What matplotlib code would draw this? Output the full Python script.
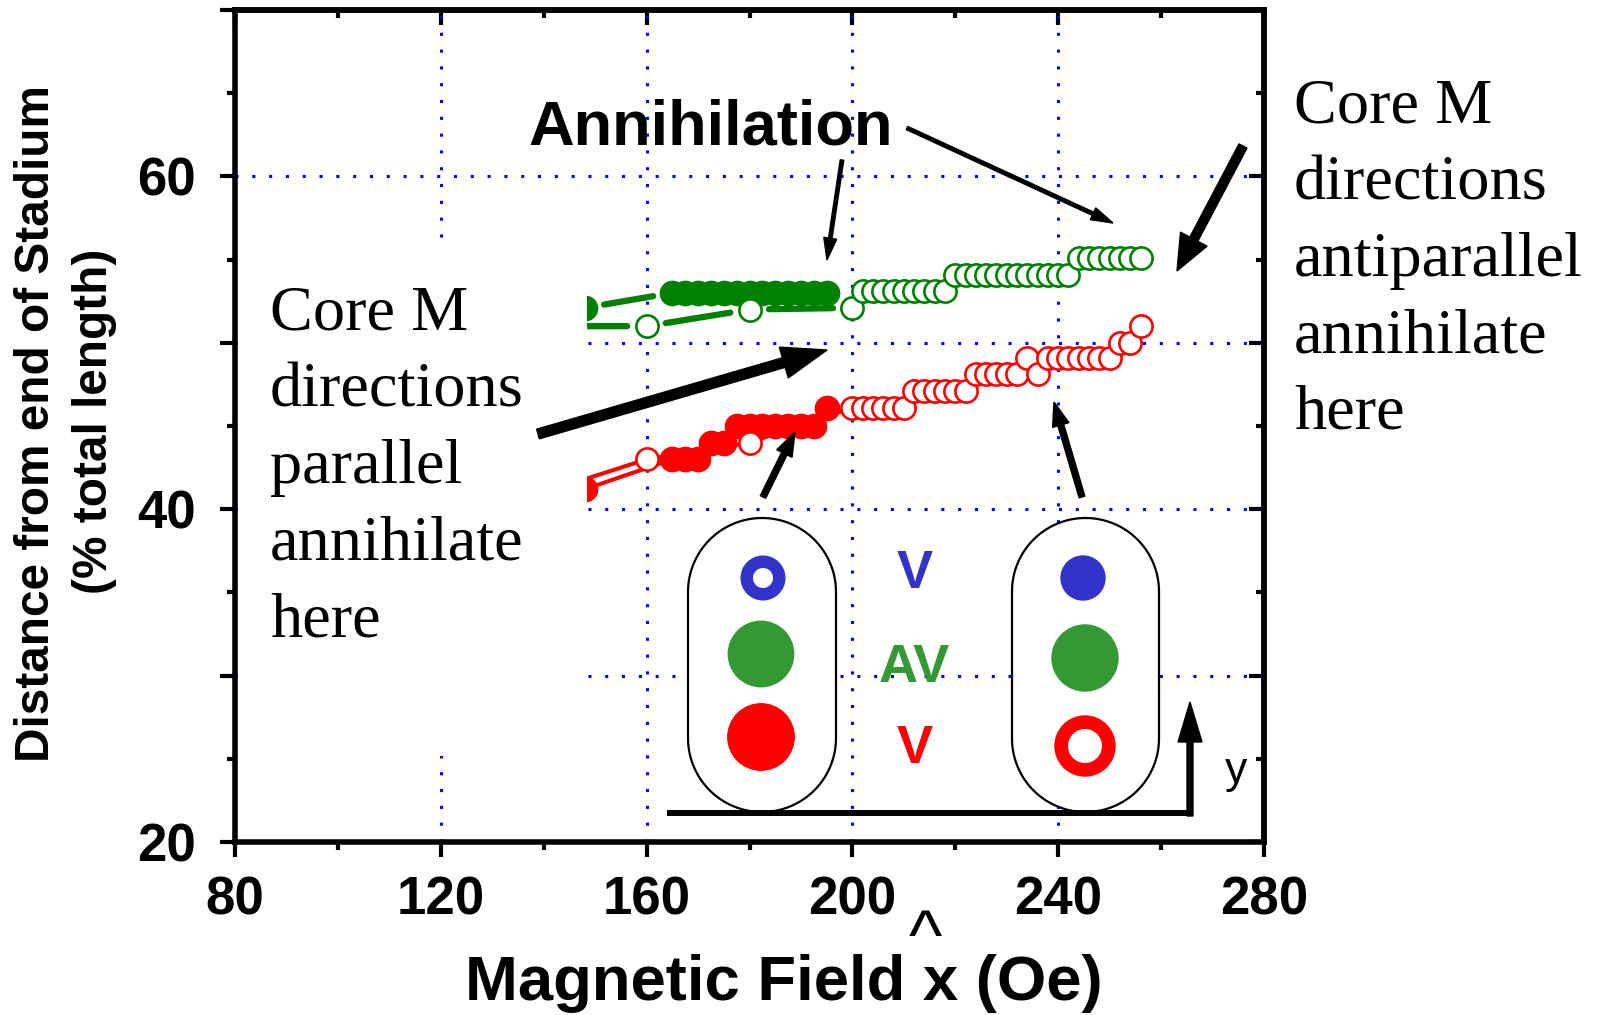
import numpy as np
import matplotlib
matplotlib.use("Agg")
import matplotlib.pyplot as plt
from matplotlib.patches import Rectangle, Polygon, Circle, Wedge, FancyArrow
from matplotlib.ticker import FixedLocator, FixedFormatter

plt.rcParams['font.family'] = ['Liberation Sans', 'DejaVu Sans']

# ---- data: core position vs applied field ----
green_fill_x = [148, 165, 167.5, 170, 172.5, 175, 177.5, 180, 182.5, 185, 187.5, 190, 192.5, 195]
green_fill_y = [52.1, 53.0, 53.0, 53.0, 53.0, 53.0, 53.0, 53.0, 53.0, 53.0, 53.0, 53.0, 53.0, 53.0]

green_open_x = [140, 160, 180, 200,
                202, 204, 206, 208, 210, 212, 214, 216, 218,
                220, 222, 224, 226, 228, 230, 232, 234, 236, 238, 240, 242,
                244, 246, 248, 250, 252, 254, 256]
green_open_y = [51.0, 51.0, 52.0, 52.1,
                53.1, 53.1, 53.1, 53.1, 53.1, 53.1, 53.1, 53.1, 53.1,
                54.1, 54.1, 54.1, 54.1, 54.1, 54.1, 54.1, 54.1, 54.1, 54.1, 54.1, 54.1,
                55.1, 55.1, 55.1, 55.1, 55.1, 55.1, 55.1]

red_fill_x = [148, 165, 167.5, 170, 172.5, 175, 177.5, 180, 182.5, 185, 187.5, 190, 192.5, 195]
red_fill_y = [41.2, 43.0, 43.0, 43.0, 44.0, 44.0, 45.0, 45.0, 45.0, 45.0, 45.0, 45.0, 45.0, 46.1]

red_open_x = [140, 160, 180,
              200, 202, 204, 206, 208, 210,
              212, 214, 216, 218, 220, 222,
              224, 226, 228, 230, 232,
              234, 236,
              238, 240, 242, 244, 246, 248, 250,
              252, 254, 256]
red_open_y = [41.0, 43.0, 44.0,
              46.1, 46.1, 46.1, 46.1, 46.1, 46.1,
              47.1, 47.1, 47.1, 47.1, 47.1, 47.1,
              48.1, 48.1, 48.1, 48.1, 48.1,
              49.1, 48.1,
              49.1, 49.1, 49.1, 49.1, 49.1, 49.1, 49.1,
              50.0, 50.0, 51.0]

x_major = [80, 120, 160, 200, 240, 280]
x_minor = [100, 140, 180, 220, 260]
x_labels = ['80', '120', '160', '200', '240', '280']
y_major = [20, 30, 40, 50, 60, 70]
y_minor = [25, 35, 45, 55, 65]
y_labels = ['20', '', '40', '', '60', '']

GREEN = '#008000'
RED = '#ff0000'
BLUE_I = '#3333cc'
GREEN_I = '#339933'

W, H = 1601, 1015
fig = plt.figure(figsize=(W / 100, H / 100), dpi=100)
ax = fig.add_axes([235 / W, 1 - 842 / H, (1264 - 235) / W, (842 - 10) / H])
ax.set_xlim(80, 280)
ax.set_ylim(20, 70)


def gapped_line(xs, ys, color, lw, gap, z):
    """Join consecutive points with segments that stop short of the markers."""
    pts = ax.transData.transform(np.column_stack([xs, ys]))
    for i in range(len(xs) - 1):
        if np.hypot(*(pts[i + 1] - pts[i])) * 72 / fig.dpi <= 2 * gap + 2:
            continue
        ax.annotate('', xy=(xs[i + 1], ys[i + 1]), xytext=(xs[i], ys[i]),
                    arrowprops=dict(arrowstyle='-', color=color, lw=lw,
                                    shrinkA=gap, shrinkB=gap),
                    zorder=z)


# series: filled markers first, open markers on top
gapped_line(green_fill_x, green_fill_y, GREEN, 4.5, 14, 1.8)
ax.plot(green_fill_x, green_fill_y, 'o', color=GREEN, ms=17.5, mew=1, zorder=2)
ax.plot(red_fill_x, red_fill_y, '-o', color=RED, lw=2.9, ms=17.5, mew=1, zorder=2)
gapped_line(green_open_x, green_open_y, GREEN, 4.5, 14, 2.3)
ax.plot(green_open_x, green_open_y, 'o', ms=16, mew=1.9,
        mfc='white', mec=GREEN, zorder=2.5)
ax.plot(red_open_x, red_open_y, '-o', color=RED, lw=2.9, ms=16, mew=1.9,
        mfc='white', mec=RED, zorder=2.5)

# axes frame and ticks
for s in ax.spines.values():
    s.set_linewidth(4)
ax.xaxis.set_major_locator(FixedLocator(x_major))
ax.xaxis.set_minor_locator(FixedLocator(x_minor))
ax.xaxis.set_major_formatter(FixedFormatter(x_labels))
ax.yaxis.set_major_locator(FixedLocator(y_major))
ax.yaxis.set_minor_locator(FixedLocator(y_minor))
ax.yaxis.set_major_formatter(FixedFormatter(y_labels))
ax.tick_params(which='both', direction='out', width=3, top=False, right=False)
ax.tick_params(which='major', length=11)
ax.tick_params(which='minor', length=6)
ax.tick_params(axis='x', which='major', pad=13, labelsize=38)
ax.tick_params(axis='y', which='major', pad=17, labelsize=38)
for lab in ax.get_xticklabels() + ax.get_yticklabels():
    lab.set_fontweight('bold')

sec_y = ax.secondary_yaxis('right')
sec_y.yaxis.set_major_locator(FixedLocator(y_major))
sec_y.yaxis.set_minor_locator(FixedLocator(y_minor))
sec_y.tick_params(which='both', direction='in', width=3, labelright=False)
sec_y.tick_params(which='major', length=11)
sec_y.tick_params(which='minor', length=6)
sec_x = ax.secondary_xaxis('top')
sec_x.xaxis.set_major_locator(FixedLocator(x_major))
sec_x.xaxis.set_minor_locator(FixedLocator(x_minor))
sec_x.tick_params(which='both', direction='in', width=3, labeltop=False)
sec_x.tick_params(which='major', length=11)
sec_x.tick_params(which='minor', length=6)
for sa in (sec_x, sec_y):
    for s in sa.spines.values():
        s.set_linewidth(4)

ax.grid(which='major', color='#0000ff', linestyle=(0, (1, 4.5)), linewidth=2.2, zorder=1)
ax.set_axisbelow(True)

# ---- overlay in figure pixel units for labels, notes, arrows and inset ----
ov = fig.add_axes([0, 0, 1, 1], zorder=10)
ov.set_xlim(0, W)
ov.set_ylim(H, 0)
ov.axis('off')
ov.patch.set_alpha(0)

# white panel behind left note
ov.add_patch(Rectangle((238, 245), 587 - 238, 756 - 245, facecolor='white',
                       edgecolor='none', zorder=1))

# axis labels
ov.text(37, 424, 'Distance from end of Stadium', rotation=90, ha='center', va='center',
        fontsize=34.4, fontweight='bold')
ov.text(95, 421, '(% total length)', rotation=90, ha='center', va='center',
        fontsize=34.4, fontweight='bold')
ov.text(784, 1000, 'Magnetic Field x (Oe)', ha='center', va='baseline',
        fontsize=45.6, fontweight='bold')
ov.text(925, 959, '^', ha='center', va='baseline', fontsize=51)

# notes
serif = ['Liberation Serif', 'DejaVu Serif']
left_lines = ['Core M', 'directions', 'parallel', 'annihilate', 'here']
right_lines = ['Core M', 'directions', 'antiparallel', 'annihilate', 'here']
for i, t in enumerate(left_lines):
    ov.text(270, 330 + 76.6 * i, t, family=serif, fontsize=46.3, va='baseline', zorder=3)
for i, t in enumerate(right_lines):
    ov.text(1294, 122.5 + 76.6 * i, t, family=serif, fontsize=46.3, va='baseline', zorder=3)
ov.text(711, 144, 'Annihilation', ha='center', va='baseline', fontsize=45.5,
        fontweight='bold', zorder=3)

# arrows: (start, end, shaft width, head width, head length)
arrows = [((842, 160), (827, 260), 3.5, 13, 22),
          ((907, 128), (1113, 223), 3.5, 13, 22),
          ((1243, 146), (1177, 271), 9, 30, 36),
          ((538, 434), (827, 350), 10, 32, 45),
          ((763, 497), (795, 432), 6, 17, 24),
          ((1082, 497), (1054, 402), 6, 17, 24)]
for (x0, y0), (x1, y1), w, hw, hl in arrows:
    ov.add_patch(FancyArrow(x0, y0, x1 - x0, y1 - y0, width=w, head_width=hw,
                            head_length=hl, length_includes_head=True,
                            color='black', zorder=5))


def stadium(x0, x1, y0, y1):
    r = (x1 - x0) / 2
    cx = (x0 + x1) / 2
    t1 = np.linspace(0, np.pi, 60)
    t2 = np.linspace(np.pi, 2 * np.pi, 60)
    top = np.column_stack([cx + r * np.cos(t1), y0 + r - r * np.sin(t1)])
    bot = np.column_stack([cx + r * np.cos(t2), y1 - r - r * np.sin(t2)])
    return Polygon(np.vstack([top, bot]), closed=True, facecolor='white',
                   edgecolor='black', lw=1.6, zorder=2)


ov.add_patch(stadium(688, 836, 518, 812))
ov.add_patch(stadium(1012, 1159, 518, 812))

# left stadium cores
ov.add_patch(Wedge((763, 578), 21.8, 0, 360, width=11.1, color=BLUE_I, zorder=3))
ov.add_patch(Circle((761, 654), 32.7, color=GREEN_I, zorder=3))
ov.add_patch(Circle((761, 737), 33.2, color=RED, zorder=3))
# right stadium cores
ov.add_patch(Circle((1083, 578), 22, color=BLUE_I, zorder=3))
ov.add_patch(Circle((1085, 658), 33, color=GREEN_I, zorder=3))
ov.add_patch(Wedge((1085, 746), 30, 0, 360, width=12.3, color=RED, zorder=3))

ov.text(915, 574, 'V', ha='center', va='center', fontsize=39, fontweight='bold', color=BLUE_I, zorder=3)
ov.text(914, 668, 'AV', ha='center', va='center', fontsize=39, fontweight='bold', color=GREEN_I, zorder=3)
ov.text(915, 749, 'V', ha='center', va='center', fontsize=39, fontweight='bold', color=RED, zorder=3)

# in-plane axes of the inset
ov.plot([667, 1193], [813, 813], color='black', lw=4.3, solid_capstyle='butt', zorder=4)
ov.add_patch(FancyArrow(1190, 816, 0, 702 - 816, width=6, head_width=24, head_length=40,
                        length_includes_head=True, color='black', zorder=4))
ov.text(1236, 771, 'y', ha='center', va='center', fontsize=32, zorder=4)

fig.savefig('out.png', dpi=100)
